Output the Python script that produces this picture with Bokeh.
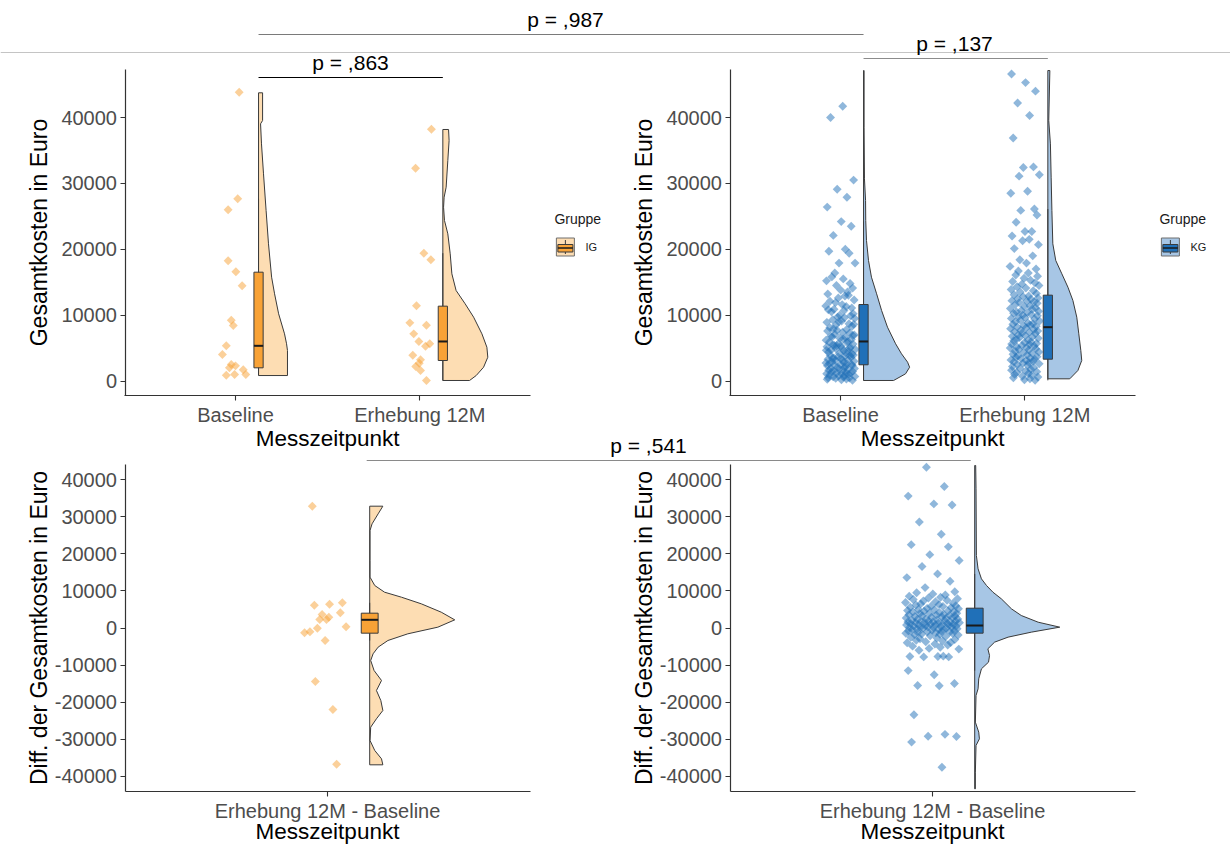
import math
from bokeh.plotting import figure
from bokeh.models import Range1d, LinearAxis, FixedTicker, PrintfTickFormatter, Grid
from bokeh.core.properties import value
from bokeh.embed import file_html
from bokeh.resources import INLINE

# ---------------- data ----------------
time_points = ["Baseline", "Erhebung 12M"]
diff_points = ["Erhebung 12M - Baseline"]
group_names = ["IG", "KG"]
cost_ticks = [0, 10000, 20000, 30000, 40000]
diff_ticks = [-40000, -30000, -20000, -10000, 0, 10000, 20000, 30000, 40000]
p_values = ["p = ,987", "p = ,863", "p = ,137", "p = ,541"]

# IG (orange) raw points and horizontal jitter (category units)
ig_base = [43840, 27660, 25990, 18250, 16580, 14450, 9230, 8420, 5340, 4020, 2500, 2300, 2000, 1700, 880, 990, 990]
ig_base_jit = [0.020, 0.012, -0.040, -0.040, 0.002, 0.036, -0.023, -0.012, -0.050, -0.071, -0.023, 0.000, -0.033, 0.042, -0.050, -0.005, 0.056]
ig_12m = [38220, 32300, 19400, 18400, 11420, 8830, 8470, 7160, 6000, 5650, 5280, 3920, 3220, 2700, 2200, 1590, 80]
ig_12m_jit = [0.063, -0.023, 0.022, 0.060, -0.018, -0.054, 0.036, -0.033, -0.005, 0.054, 0.031, -0.038, 0.004, -0.003, -0.022, 0.004, 0.036]
ig_diff = [32870, 6150, 6420, 6800, 3640, 4100, 2290, 2920, 2290, 320, -50, -1300, -1030, -3370, -14440, -22000, -36760]
ig_diff_jit = [-0.045, -0.039, 0.006, 0.044, -0.016, 0.038, -0.023, 0.004, -0.003, 0.055, -0.030, -0.068, -0.052, -0.007, -0.036, 0.016, 0.027]

# KG (blue) raw points
kg_base = [41700, 40000, 30500, 29100, 27900, 26400, 24200, 23500, 22100, 20000, 19700, 19400, 17900, 17900, 16400, 15500,
           15200, 14800, 14500, 14100, 15800,
           13800, 13500, 13200, 12900, 12600, 12300, 12100, 13000,
           11900, 11600, 11400, 11100, 10900, 10700, 10500, 10200, 10000, 11300, 10800,
           9900, 9700, 9500, 9300, 9100, 8900, 8700, 8500, 8300, 8100, 9600, 9000, 8600,
           7900, 7800, 7600, 7400, 7300, 7100, 6900, 6800, 6600, 6500, 6300, 6200, 6000, 7700, 7000, 6700, 6400,
           5900, 5800, 5700, 5600, 5400, 5300, 5200, 5100, 4900, 4800, 4700, 4600, 4500, 4400, 4300, 4200, 4100, 5500, 5000, 4650, 4950, 5350,
           3950, 3900, 3800, 3700, 3600, 3500, 3400, 3300, 3200, 3100, 3000, 2900, 2800, 2700, 2600, 2500, 2400, 2300, 2200, 2100, 3850, 3450, 3150, 2750, 2450, 2350, 2050,
           1950, 1900, 1800, 1700, 1650, 1600, 1500, 1450, 1400, 1300, 1250, 1200, 1100, 1050, 1000, 900, 850, 800, 700, 650, 600, 500, 450, 400, 300, 250, 200, 100]
kg_12m = [46600, 45300, 44000, 42200, 40300, 36900, 32500, 32400, 31300, 31100, 28800, 28500, 26100, 25900, 25200, 24100, 22700, 22700, 22000, 21500, 21300, 20700, 20100,
          19000, 18400,
          17900, 17400, 17000, 16700, 16400, 16100,
          15900, 15600, 15300, 15100, 14900, 14700, 14500, 14300, 14100,
          13900, 13700, 13500, 13300, 13100, 12900, 12800, 12600, 12500, 12400, 12200, 12100, 12000,
          11900, 11800, 11600, 11400, 11300, 11100, 11000, 10900, 10700, 10600, 10500, 10400, 10300, 10100, 10000,
          9900, 9800, 9600, 9500, 9400, 9200, 9100, 9000, 8800, 8700, 8600, 8500, 8400, 8300, 8200, 8100,
          7950, 7800, 7700, 7600, 7500, 7400, 7300, 7200, 7000, 6900, 6800, 6700, 6600, 6500, 6300, 6200, 6100,
          5950, 5850, 5700, 5600, 5500, 5400, 5300, 5200, 5100, 5000, 4900, 4800, 4700, 4500, 4400, 4300, 4200, 4050,
          3950, 3800, 3700, 3600, 3500, 3400, 3300, 3200, 3100, 3000, 2900, 2800, 2700, 2600, 2500, 2400, 2200, 2050,
          1900, 1800, 1650, 1500, 1400, 1300, 1150, 1000, 900, 750, 600, 500, 350, 200, 100]
kg_diff = [43400, 38200, 35600, 33500, 33200, 28600, 25300, 22500, 21900, 19800, 18200, 16600, 14600, 13600, 12600, 10900,
           9800, 9500, 9200, 8900, 8600, 8300, 8100,
           7900, 7700, 7500, 7300, 7100, 6900, 6700, 6500, 6300, 6200, 6000,
           5900, 5800, 5600, 5500, 5300, 5200, 5000, 4900, 4700, 4600, 4500, 4400, 4300, 4100, 4000,
           3950, 3850, 3700, 3600, 3500, 3400, 3300, 3200, 3100, 3000, 2900, 2800, 2700, 2600, 2500, 2400, 2300, 2200, 2100,
           1950, 1900, 1850, 1800, 1700, 1650, 1600, 1500, 1450, 1400, 1300, 1250, 1200, 1100, 1050, 1000, 900, 850, 800, 700, 600, 550, 500, 400, 350, 300, 200, 150, 50,
           -50, -100, -200, -300, -350, -450, -500, -600, -700, -800, -900, -1000, -1100, -1200, -1300, -1400, -1500, -1600, -1700, -1800, -1900,
           -2100, -2300, -2500, -2700, -2900, -3100, -3300, -3500, -3700, -3900, -4000,
           -4300, -4600, -4900, -5200, -5500, -5700, -6000,
           -7700, -7700, -7800, -7800, -7600, -11500, -12600, -15000, -15500, -15600, -23400, -28700, -29200, -29300, -30800, -37600]
kg_jit = [0.012, -0.054, 0.071, -0.018, 0.035, -0.072, 0.004, 0.058, -0.039, 0.026,
          -0.063, 0.047, -0.008, 0.079, -0.031, 0.015, -0.076, 0.052, -0.022, 0.066,
          -0.047, 0.001, 0.038, -0.069, 0.024, -0.012, 0.074, -0.057, 0.043, -0.027,
          0.009, -0.080, 0.061, -0.035, 0.019, -0.049, 0.069, -0.004, 0.031, -0.066,
          0.055, -0.016, 0.077, -0.042, 0.006, -0.074, 0.046, -0.025, 0.063, -0.058,
          0.021, -0.009, 0.072, -0.038, 0.033, -0.070, 0.011, 0.050, -0.030, 0.067,
          -0.052, 0.028, -0.003, 0.059, -0.078, 0.040, -0.019, 0.075, -0.045, 0.014,
          -0.061, 0.036, -0.011, 0.068, -0.034, 0.002, -0.073, 0.053, -0.024, 0.080,
          -0.050, 0.017, 0.044, -0.065, 0.029, -0.006, 0.062, -0.041, 0.008, -0.077,
          0.049, -0.021, 0.070, -0.056, 0.025, -0.014, 0.057, -0.036, 0.003, -0.068,
          0.041, -0.028, 0.073, -0.046, 0.018, -0.060, 0.034, -0.001, 0.064, -0.071,
          0.027, -0.015, 0.051, -0.043, 0.010, -0.079, 0.060, -0.032, 0.022, -0.053,
          0.076, -0.007, 0.039, -0.064, 0.013, -0.037, 0.066, -0.048, 0.030, -0.020,
          0.054, -0.075, 0.007, 0.045, -0.059, 0.023, -0.010, 0.078, -0.040, 0.016,
          -0.067, 0.048, -0.026, 0.032, -0.072, 0.005, 0.065, -0.044, 0.020, -0.055,
          0.037, -0.013, 0.071, -0.062, 0.028, -0.002, 0.056, -0.033, 0.009, -0.076]

# box statistics (q1, median, q3)
box_ig_base = [2000, 5340, 16520]
box_ig_12m = [3110, 6000, 11360]
box_kg_base = [2460, 6000, 11610]
box_kg_12m = [3310, 8170, 13030]
box_ig_diff = [-1400, 2210, 4000]
box_kg_diff = [-1400, 670, 5350]

# half-violin outlines: value levels and density widths (category units)
vio_ig_base_y = [43750, 39540, 39040, 36000, 31450, 25880, 20830, 15760, 13240, 10200, 7160, 5650, 4630, 830]
vio_ig_base_w = [0.022, 0.022, 0.011, 0.016, 0.027, 0.041, 0.054, 0.071, 0.087, 0.109, 0.141, 0.152, 0.157, 0.157]
vio_ig_12m_y = [38180, 36510, 33470, 29420, 27900, 26380, 24360, 22340, 19310, 16270, 13740, 11720, 9690, 7160, 5130, 3610, 2090, 830, 76]
vio_ig_12m_w = [0.031, 0.034, 0.027, 0.018, 0.007, 0.004, 0.009, 0.027, 0.040, 0.049, 0.072, 0.121, 0.167, 0.212, 0.239, 0.244, 0.221, 0.181, 0.145]
vio_kg_base_y = [47130, 38530, 30690, 27400, 24360, 21330, 18290, 15760, 13240, 10700, 8170, 5650, 4130, 2860, 2090, 1090, 76]
vio_kg_base_w = [0.003, 0.003, 0.005, 0.011, 0.012, 0.016, 0.027, 0.043, 0.071, 0.098, 0.130, 0.174, 0.206, 0.239, 0.250, 0.228, 0.163]
vio_kg_12m_y = [47130, 39540, 36000, 30940, 25880, 20830, 18290, 16270, 14240, 12220, 9690, 7160, 4630, 3110, 1590, 330]
vio_kg_12m_w = [0.011, 0.005, 0.014, 0.018, 0.022, 0.027, 0.043, 0.076, 0.109, 0.136, 0.157, 0.168, 0.179, 0.184, 0.163, 0.119]
vio_ig_diff_y = [32880, 30810, 28110, 26320, 18220, 13720, 11470, 9670, 8320, 6520, 4270, 2200, 225, -1570, -3370, -5170, -6970, -8770,
                 -11470, -14170, -16870, -19570, -22270, -24510, -26770, -30360, -33060, -35310, -36930]
vio_ig_diff_w = [0.039, 0.025, 0.007, 0.001, 0.001, 0.001, 0.015, 0.044, 0.094, 0.153, 0.212, 0.252, 0.202, 0.113, 0.054, 0.025, 0.010, 0.003,
                 0.013, 0.035, 0.020, 0.033, 0.039, 0.020, 0.003, 0.001, 0.015, 0.035, 0.039]
vio_kg_diff_y = [43860, 37560, 19570, 15970, 13270, 11470, 9670, 7870, 5170, 3370, 1570, 225, -1120, -2470, -3820, -5620, -7420, -9220,
                 -11020, -13720, -16420, -18220, -25420, -28110, -29910, -31710, -38910, -43410]
vio_kg_diff_w = [0.003, 0.004, 0.005, 0.010, 0.020, 0.035, 0.054, 0.079, 0.109, 0.138, 0.188, 0.252, 0.168, 0.099, 0.059, 0.039, 0.044, 0.041,
                 0.020, 0.012, 0.010, 0.004, 0.002, 0.012, 0.014, 0.004, 0.002, 0.002]

# ---------------- styling ----------------
FONT = "Liberation Sans"
IG_COL = "#F8A236"
IG_VIO = "#FDDDB3"
KG_COL = "#2070B8"
KG_VIO = "#A7C6E5"
OUT = "#3A3A3A"
NUDGE = 0.125
BOXW = 0.05

W, H = 1230, 845
X0, Y0 = 0, 0  # canvas origin in page pixels

p = figure(width=W, height=H, x_range=Range1d(X0, X0 + W), y_range=Range1d(Y0 + H, Y0),
           output_backend="svg", toolbar_location=None, x_axis_location=None, y_axis_location=None,
           min_border=0)
p.outline_line_color = None
p.background_fill_color = "white"
p.border_fill_color = "white"
p.center = [r for r in p.center if not isinstance(r, Grid)]


def make_x(name, u_a, px_a, u_b, px_b):
    k = (u_b - u_a) / (px_b - px_a)
    start = u_a - (px_a - X0) * k
    p.extra_x_ranges[name] = Range1d(start=start, end=start + W * k)
    return lambda u: px_a + (u - u_a) / k


def make_y(name, v_a, py_a, v_b, py_b):
    k = (v_b - v_a) / (py_a - py_b)
    start = v_a - (Y0 + H - py_a) * k
    p.extra_y_ranges[name] = Range1d(start=start, end=start + H * k)
    return lambda py: v_a + (py_a - py) * k


# panel geometry (page pixels)
panels = {
    "tl": dict(ux=(1, 235.0, 2, 419.3), vy=(0, 380.5, 40000, 117.0), left=124.5, bottom=395, top=69, ub=(0.4, 2.6), tgap=43),
    "tr": dict(ux=(1, 840.0, 2, 1024.3), vy=(0, 380.5, 40000, 117.0), left=729.5, bottom=395, top=69, ub=(0.4, 2.6), tgap=43),
    "bl": dict(ux=(1, 327.0, 1.6, 529.5), vy=(40000, 479.3, -40000, 775.7), left=124.5, bottom=791, top=464, ub=(0.4, 1.6), tgap=40),
    "br": dict(ux=(1, 932.0, 1.6, 1134.5), vy=(40000, 479.3, -40000, 775.7), left=729.5, bottom=791, top=464, ub=(0.4, 1.6), tgap=40),
}
fx, fy = {}, {}
for key, g in panels.items():
    fx[key] = make_x(key + "_x", *g["ux"])
    fy[key] = make_y(key + "_y", *g["vy"])


def axes(key, ticks, cats, labels):
    g = panels[key]
    yax = LinearAxis(y_range_name=key + "_y", fixed_location=g["left"],
                     bounds=(fy[key](g["bottom"]), fy[key](g["top"])),
                     ticker=FixedTicker(ticks=ticks), formatter=PrintfTickFormatter(format="%d"))
    xax = LinearAxis(x_range_name=key + "_x", fixed_location=g["bottom"], bounds=g["ub"],
                     ticker=FixedTicker(ticks=cats),
                     major_label_overrides={c: l for c, l in zip(cats, labels)})
    for ax, side in ((yax, "left"), (xax, "below")):
        ax.axis_line_color = "#333333"
        ax.axis_line_width = 1.2
        ax.major_tick_line_color = "#333333"
        ax.major_tick_line_width = 1.1
        ax.major_tick_out = 5
        ax.major_tick_in = 0
        ax.minor_tick_out = 0
        ax.minor_tick_in = 0
        ax.major_label_standoff = 3
        ax.major_label_text_font = FONT
        ax.major_label_text_font_size = "20px"
        ax.major_label_text_color = "#4D4D4D"
        p.add_layout(ax, side)


def violin(key, cat, vy, vw, fill):
    base = cat + NUDGE
    xs = [base] + [base + w for w in vw] + [base]
    ys = [vy[0]] + list(vy) + [vy[-1]]
    p.patch(xs, ys, x_range_name=key + "_x", y_range_name=key + "_y",
            fill_color=fill, line_color=OUT, line_width=1)


def boxplot(key, cat, stats, data, fill):
    q1, med, q3 = stats
    base = cat + NUDGE
    iqr = q3 - q1
    hi = max(v for v in data if v <= q3 + 1.5 * iqr)
    lo = min(v for v in data if v >= q1 - 1.5 * iqr)
    kw = dict(x_range_name=key + "_x", y_range_name=key + "_y")
    p.segment(x0=[base, base], y0=[q3, q1], x1=[base, base], y1=[hi, lo], line_color=OUT, line_width=1, **kw)
    p.quad(left=[base - BOXW / 2], right=[base + BOXW / 2], bottom=[q1], top=[q3],
           fill_color=fill, line_color=OUT, line_width=1, **kw)
    p.segment(x0=[base - BOXW / 2], x1=[base + BOXW / 2], y0=[med], y1=[med], line_color="#1A1A1A", line_width=2, **kw)


def points(key, cat, vals, jit, col):
    p.scatter([cat + j for j in jit[:len(vals)]], vals, marker="square", size=6.3, angle=math.pi / 4,
              fill_color=col, fill_alpha=0.5, line_color=None,
              x_range_name=key + "_x", y_range_name=key + "_y")


def txt(x, y, s, size, color="#000000", align="center", baseline="middle", angle=0.0):
    p.text(x=[x], y=[y], text=[s], text_font=value(FONT), text_font_size=value(size), text_color=color,
           text_align=align, text_baseline=baseline, angle=angle)


# --- top-left: IG costs ---
violin("tl", 1, vio_ig_base_y, vio_ig_base_w, IG_VIO)
violin("tl", 2, vio_ig_12m_y, vio_ig_12m_w, IG_VIO)
boxplot("tl", 1, box_ig_base, ig_base, IG_COL)
boxplot("tl", 2, box_ig_12m, ig_12m, IG_COL)
points("tl", 1, ig_base, ig_base_jit, IG_COL)
points("tl", 2, ig_12m, ig_12m_jit, IG_COL)
axes("tl", cost_ticks, [1, 2], time_points)

# --- top-right: KG costs ---
violin("tr", 1, vio_kg_base_y, vio_kg_base_w, KG_VIO)
violin("tr", 2, vio_kg_12m_y, vio_kg_12m_w, KG_VIO)
boxplot("tr", 1, box_kg_base, kg_base, KG_COL)
boxplot("tr", 2, box_kg_12m, kg_12m, KG_COL)
points("tr", 1, kg_base, kg_jit, KG_COL)
points("tr", 2, kg_12m, kg_jit[5:], KG_COL)
axes("tr", cost_ticks, [1, 2], time_points)

# --- bottom-left: IG differences ---
violin("bl", 1, vio_ig_diff_y, vio_ig_diff_w, IG_VIO)
boxplot("bl", 1, box_ig_diff, ig_diff, IG_COL)
points("bl", 1, ig_diff, ig_diff_jit, IG_COL)
axes("bl", diff_ticks, [1], diff_points)

# --- bottom-right: KG differences ---
violin("br", 1, vio_kg_diff_y, vio_kg_diff_w, KG_VIO)
boxplot("br", 1, box_kg_diff, kg_diff, KG_COL)
points("br", 1, kg_diff, kg_jit[3:], KG_COL)
axes("br", diff_ticks, [1], diff_points)

# --- axis titles ---
for key, ylab in (("tl", "Gesamtkosten in Euro"), ("tr", "Gesamtkosten in Euro"),
                  ("bl", "Diff. der Gesamtkosten in Euro"), ("br", "Diff. der Gesamtkosten in Euro")):
    g = panels[key]
    txt(g["left"] - 86.5, (g["top"] + g["bottom"]) / 2, ylab, "23px", angle=math.pi / 2)
    txt(fx[key]((g["ub"][0] + g["ub"][1]) / 2), g["bottom"] + g["tgap"], "Messzeitpunkt", "22.5px")

# --- legends ---
for key, col, vio, name in (("tl", IG_COL, IG_VIO, group_names[0]), ("tr", KG_COL, KG_VIO, group_names[1])):
    lx = fx[key](panels[key]["ub"][1]) + 24
    txt(lx, 218, "Gruppe", "14px", color="#1A1A1A", align="left")
    kx, ky = lx + 2, 237.5
    p.quad(left=[kx], right=[kx + 18], top=[ky], bottom=[ky + 18], fill_color=vio, line_color="#6E6E6E", line_width=1)
    p.segment(x0=[kx + 9, kx + 9], y0=[ky + 2, ky + 14], x1=[kx + 9, kx + 9], y1=[ky + 6.5, ky + 16],
              line_color=OUT, line_width=1)
    p.quad(left=[kx + 1.5], right=[kx + 16.5], top=[ky + 6.5], bottom=[ky + 14], fill_color=col,
           line_color=OUT, line_width=1)
    p.segment(x0=[kx + 1.5], x1=[kx + 16.5], y0=[ky + 10], y1=[ky + 10], line_color="#1A1A1A", line_width=1.5)
    txt(kx + 29, ky + 9, name, "11px", color="#1A1A1A", align="left")

# --- comparison brackets with p-values ---
tl_b1 = fx["tl"](1 + NUDGE)
tl_b2 = fx["tl"](2 + NUDGE)
tr_b1 = fx["tr"](1 + NUDGE)
tr_b2 = fx["tr"](2 + NUDGE)
bl_b = fx["bl"](1 + NUDGE)
br_b = fx["br"](1 + NUDGE)
p.segment(x0=[X0], x1=[X0 + W], y0=[52], y1=[52], line_color="#C4C4C4", line_width=1)
brackets = [
    (tl_b1, tr_b1, 34, p_values[0], "#7A7A7A", 565),
    (tl_b1, tl_b2, 77, p_values[1], "#000000", 350),
    (tr_b1, tr_b2, 58, p_values[2], "#8C8C8C", 954),
    (bl_b - 3, br_b - 4, 460, p_values[3], "#8A8A8A", 648),
]
for x0, x1, yl, lab, col, tx in brackets:
    p.segment(x0=[x0], x1=[x1], y0=[yl], y1=[yl], line_color=col, line_width=1.2)
    txt(tx, yl - 15, lab, "21px", baseline="middle")

open("out.html", "w").write(file_html(p, INLINE))
